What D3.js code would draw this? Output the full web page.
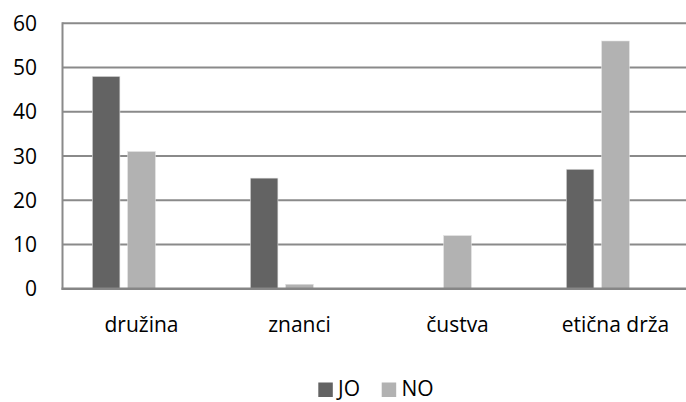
<!DOCTYPE html>
<html>
<head>
<meta charset="utf-8">
<script src="https://cdn.jsdelivr.net/npm/d3@7"></script>
<style>
  html, body { margin: 0; padding: 0; background: #fff; }
  svg { display: block; }
  text { font-family: "Open Sans", "Liberation Sans", sans-serif; fill: #000; }
</style>
</head>
<body>
<script>
// Clustered column chart: answers JO / NO per category
const categories = ["družina", "znanci", "čustva", "etična drža"];
const seriesNames = ["JO", "NO"];
const valuesJO = [48, 25, 0, 27];
const valuesNO = [31, 1, 12, 56];
const yTicks = [0, 10, 20, 30, 40, 50, 60];
// the cluster reserves a third (empty) slot, so the pair sits left of centre
const slots = ["JO", "NO", "—"];

const seriesColors = { JO: "#636363", NO: "#b2b2b2" };
const seriesValues = { JO: valuesJO, NO: valuesNO };

const W = 686, H = 402;
const plot = { left: 62.5, right: 694.5, top: 23.3, bottom: 288.7 };

const svg = d3.select("body").append("svg")
  .attr("width", W).attr("height", H);

svg.append("rect").attr("width", W).attr("height", H).attr("fill", "#fff");

const y = d3.scaleLinear().domain([0, 60]).range([plot.bottom, plot.top]);
const x0 = d3.scaleBand().domain(categories).range([plot.left, plot.right]);
const edge = 29.8;
const x1 = d3.scaleBand().domain(slots)
  .range([edge, x0.bandwidth() - edge]).paddingInner(0.22);

// horizontal gridlines
svg.append("g").selectAll("line").data(yTicks.filter(t => t > 0)).join("line")
  .attr("x1", plot.left).attr("x2", W)
  .attr("y1", d => y(d)).attr("y2", d => y(d))
  .attr("stroke", "#8a8a8a").attr("stroke-width", 2);

// bars
const rows = categories.map((c, i) => ({ c, i }));
const groups = svg.append("g").selectAll("g").data(rows).join("g")
  .attr("transform", d => `translate(${x0(d.c)},0)`);

groups.selectAll("rect")
  .data(d => seriesNames.map(s => ({ s, v: seriesValues[s][d.i] })).filter(e => e.v > 0))
  .join("rect")
  .attr("x", d => x1(d.s))
  .attr("width", x1.bandwidth())
  .attr("y", d => y(d.v))
  .attr("height", d => y(0) - y(d.v))
  .attr("fill", d => seriesColors[d.s])
  .attr("stroke", "#e0e0e0").attr("stroke-width", 0.6);

// axes lines
svg.append("line")
  .attr("x1", plot.left).attr("x2", plot.left)
  .attr("y1", y(60) - 1).attr("y2", y(0) + 1)
  .attr("stroke", "#8a8a8a").attr("stroke-width", 2);
svg.append("line")
  .attr("x1", plot.left - 1).attr("x2", W)
  .attr("y1", y(0)).attr("y2", y(0))
  .attr("stroke", "#868686").attr("stroke-width", 2.4);

// y tick labels
svg.append("g").selectAll("text").data(yTicks).join("text")
  .attr("x", 37).attr("y", d => y(d))
  .attr("dy", "0.36em")
  .attr("text-anchor", "end")
  .attr("font-size", 21)
  .text(d => d);

// category labels
svg.append("g").selectAll("text").data(categories).join("text")
  .attr("x", d => x0(d) + x0.bandwidth() / 2)
  .attr("y", 332)
  .attr("text-anchor", "middle")
  .attr("font-size", 21)
  .text(d => d);

// legend
const legendItems = [
  { s: "JO", box: 318.3, tx: 338 },
  { s: "NO", box: 381.7, tx: 401.5 }
];
const lg = svg.append("g");
lg.selectAll("rect").data(legendItems).join("rect")
  .attr("x", d => d.box).attr("y", 382.5)
  .attr("width", 14.5).attr("height", 14.5)
  .attr("fill", d => seriesColors[d.s]);
lg.selectAll("text").data(legendItems).join("text")
  .attr("x", d => d.tx).attr("y", 396)
  .attr("font-size", 21)
  .text(d => d.s);
</script>
</body>
</html>
